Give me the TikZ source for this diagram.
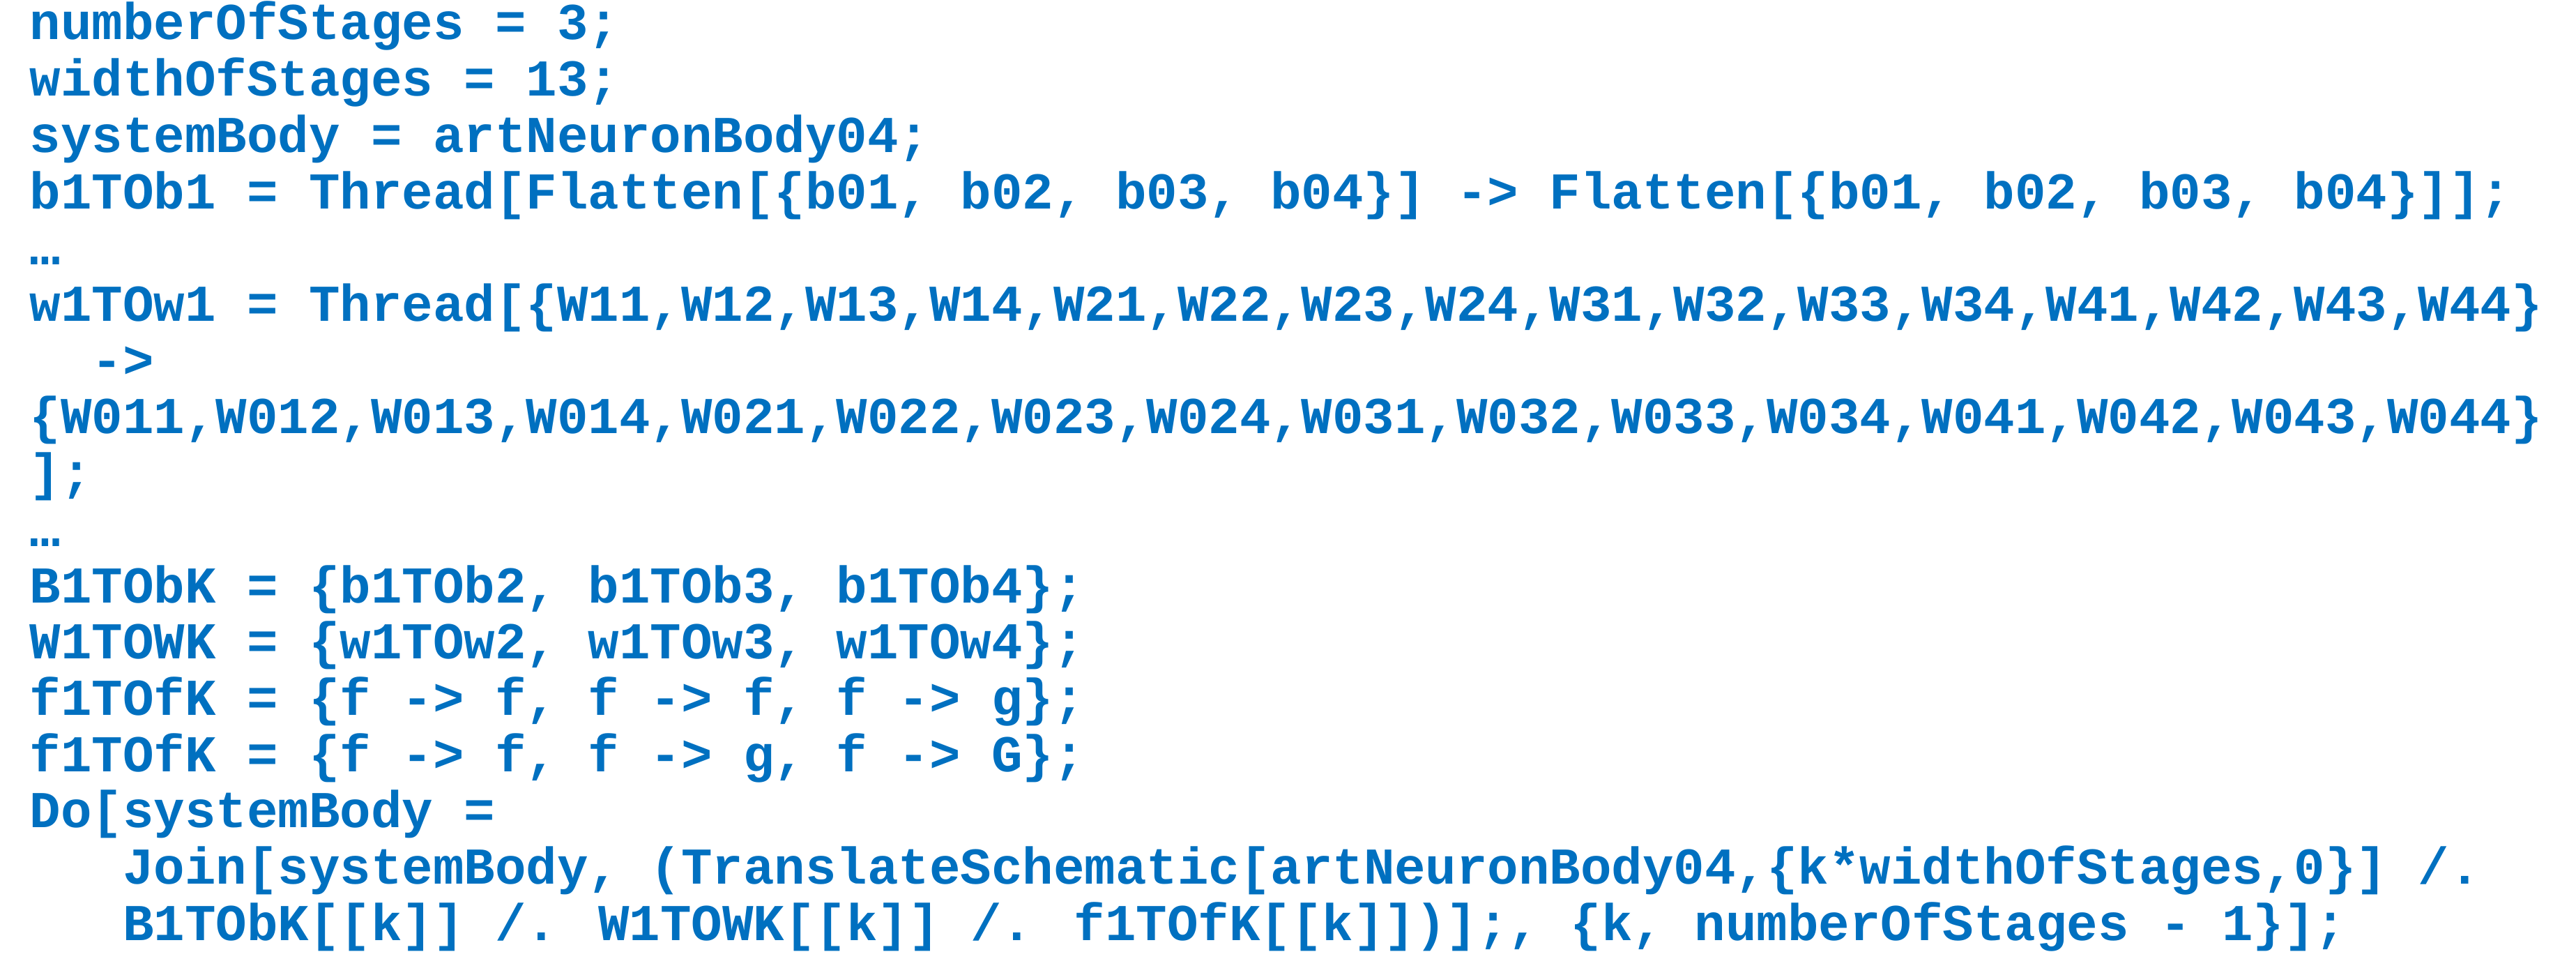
\documentclass[tikz,border=0pt]{standalone}
\usepackage{fontspec}
\newfontfamily\codefont{Liberation Mono}[BoldFont={Liberation Mono Bold}]
\definecolor{codeblue}{HTML}{0070C0}
\begin{document}
\begin{tikzpicture}[x=1cm,y=1cm,
  codeline/.style={anchor=base west,inner sep=0pt,text=codeblue,font=\codefont\bfseries\fontsize{21.1pt}{23pt}\selectfont}]
\useasboundingbox (0,0) rectangle (36.95,13.97);
\def\ind#1{\phantom{#1}}
\foreach \t [count=\i from 0] in {
 {numberOfStages = 3;},
 {widthOfStages = 13;},
 {systemBody = artNeuronBody04;},
 {b1TOb1 = Thread[Flatten[\{b01, b02, b03, b04\}] -> Flatten[\{b01, b02, b03, b04\}]];},
 {…},
 {w1TOw1 = Thread[\{W11,W12,W13,W14,W21,W22,W23,W24,W31,W32,W33,W34,W41,W42,W43,W44\}},
 {\ind{xx}->},
 {\{W011,W012,W013,W014,W021,W022,W023,W024,W031,W032,W033,W034,W041,W042,W043,W044\}},
 {];},
 {…},
 {B1TObK = \{b1TOb2, b1TOb3, b1TOb4\};},
 {W1TOWK = \{w1TOw2, w1TOw3, w1TOw4\};},
 {f1TOfK = \{f -> f, f -> f, f -> g\};},
 {f1TOfK = \{f -> f, f -> g, f -> G\};},
 {Do[systemBody =},
 {\ind{xxx}Join[systemBody, (TranslateSchematic[artNeuronBody04,\{k*widthOfStages,0\}] /.},
 {\ind{xxx}B1TObK[[k]] /. W1TOWK[[k]] /. f1TOfK[[k]])];, \{k, numberOfStages - 1\}];}
}{
  \node[codeline] (l\i) at (0.42,{13.40-0.807*\i}) {\t};
}
\end{tikzpicture}
\end{document}
